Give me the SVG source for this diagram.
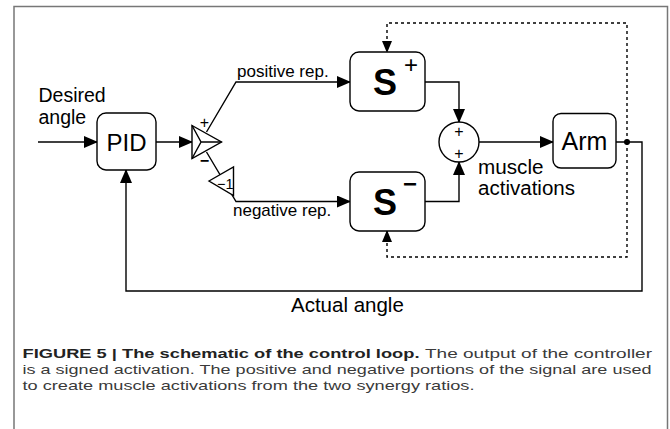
<svg xmlns="http://www.w3.org/2000/svg" width="670" height="429" viewBox="0 0 670 429">
<defs>
<style>
.box{fill:#fff;stroke:#000;stroke-width:1.4}
.ln{fill:none;stroke:#000;stroke-width:1.4}
.dot{fill:none;stroke:#000;stroke-width:1.4;stroke-dasharray:3 3}
.t{font-family:"Liberation Sans",Arial,sans-serif;fill:#000}
.cap{font-family:"Liberation Sans",Arial,sans-serif;fill:#3a3a3a;font-size:13.5px}
.capb{font-family:"Liberation Sans",Arial,sans-serif;fill:#222;font-size:13.5px;font-weight:bold}
</style>
<marker id="arr" markerWidth="14" markerHeight="12" refX="13" refY="6" orient="auto" markerUnits="userSpaceOnUse"><path d="M0,0 L14,6 L0,12 z" fill="#000"/></marker>
<marker id="arrs" markerWidth="12" markerHeight="10" refX="11" refY="5" orient="auto" markerUnits="userSpaceOnUse"><path d="M0,0 L12,5 L0,10 z" fill="#000"/></marker>
</defs>
<rect x="14" y="6.5" width="653.5" height="440" fill="#fff" stroke="#777" stroke-width="1.5"/>
<g id="connectors">
<line class="ln" x1="38" y1="142" x2="97" y2="142" marker-end="url(#arr)"/>
<line class="ln" x1="156" y1="142" x2="192" y2="142" marker-end="url(#arr)"/>
<polyline class="ln" points="206.5,132 236,82 350,82" marker-end="url(#arr)"/>
<polyline class="ln" points="206.5,152 236,201.5 350,201.5" marker-end="url(#arr)"/>
<polyline class="ln" points="425,82 459,82 459,122" marker-end="url(#arr)"/>
<polyline class="ln" points="425,201.5 459,201.5 459,162" marker-end="url(#arr)"/>
<line class="ln" x1="479" y1="142" x2="553" y2="142" marker-end="url(#arr)"/>
<polyline class="ln" points="616,142 642,142 642,291 126,291 126,170" marker-end="url(#arr)"/>
<polyline class="dot" points="627,142 627,23 387,23 387,52" marker-end="url(#arrs)"/>
<polyline class="dot" points="627,142 627,257 387,257 387,231" marker-end="url(#arrs)"/>
<circle cx="627" cy="142" r="3" fill="#000"/>
</g>
<g id="pid">
<rect class="box" x="97" y="113" width="59" height="57" rx="9"/>
<text class="t" x="126.5" y="150.5" font-size="24" text-anchor="middle">PID</text>
</g>
<g id="splitter">
<polygon class="box" points="192,125.5 221.5,142 192,158.5"/>
<path class="ln" d="M192,125.5 L201,142 L192,158.5 M201,142 L221.5,142"/>
<text class="t" x="204.5" y="128" font-size="16" text-anchor="middle">+</text>
<text class="t" x="204.5" y="165.5" font-size="16" font-weight="bold" text-anchor="middle">−</text>
</g>
<g id="neg">
<polygon class="box" points="209,181 233.5,167 233.5,195.5"/>
<text class="t" x="233.5" y="189" font-size="14.5" text-anchor="end">−1</text>
</g>
<g id="splus">
<rect class="box" x="350" y="52" width="75" height="59" rx="9"/>
<text class="t" x="373" y="95" font-size="36" font-weight="bold">S</text>
<text class="t" x="411" y="72.5" font-size="24" text-anchor="middle">+</text>
</g>
<g id="sminus">
<rect class="box" x="350" y="172" width="75" height="59" rx="9"/>
<text class="t" x="373" y="215" font-size="36" font-weight="bold">S</text>
<text class="t" x="410" y="192" font-size="24" font-weight="bold" text-anchor="middle">−</text>
</g>
<g id="sum">
<circle class="box" cx="459" cy="142" r="20"/>
<text class="t" x="459" y="137" font-size="16" text-anchor="middle">+</text>
<text class="t" x="459" y="158.5" font-size="16" text-anchor="middle">+</text>
</g>
<g id="arm">
<rect class="box" x="553" y="113.5" width="63" height="54.5" rx="8"/>
<text class="t" x="584.5" y="149.5" font-size="25" text-anchor="middle">Arm</text>
</g>
<g id="labels">
<text class="t" x="38.5" y="101.5" font-size="19.5">Desired</text>
<text class="t" x="38.5" y="124" font-size="19.5">angle</text>
<text class="t" x="237" y="77" font-size="17">positive rep.</text>
<text class="t" x="233" y="216" font-size="17">negative rep.</text>
<text class="t" x="478" y="173.5" font-size="19.5" textLength="65.5" lengthAdjust="spacingAndGlyphs">muscle</text>
<text class="t" x="478" y="194.5" font-size="19.5" textLength="97" lengthAdjust="spacingAndGlyphs">activations</text>
<text class="t" x="291" y="312" font-size="20.5">Actual angle</text>
</g>
<g id="caption">
<text class="capb" x="22.5" y="358" textLength="397" lengthAdjust="spacingAndGlyphs">FIGURE 5 | The schematic of the control loop.</text>
<text class="cap" x="425" y="358" textLength="227" lengthAdjust="spacingAndGlyphs">The output of the controller</text>
<text class="cap" x="22.5" y="374" textLength="629" lengthAdjust="spacingAndGlyphs">is a signed activation. The positive and negative portions of the signal are used</text>
<text class="cap" x="22.5" y="390" textLength="452" lengthAdjust="spacingAndGlyphs">to create muscle activations from the two synergy ratios.</text>
</g>
</svg>
